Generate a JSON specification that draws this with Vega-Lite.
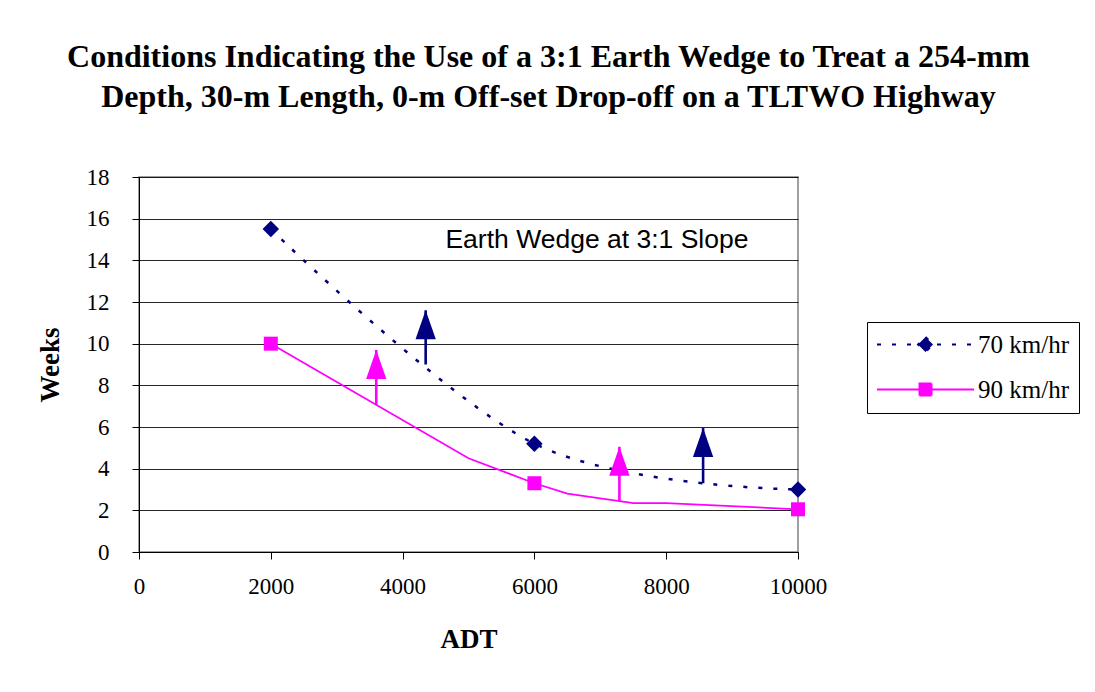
{
  "$schema": "https://vega.github.io/schema/vega-lite/v6.json",
  "width": 659,
  "height": 375,
  "autosize": {"type": "none"},
  "padding": {"left": 139, "top": 177, "right": 297, "bottom": 140},
  "background": "white",
  "title": {
    "text": ["Conditions Indicating the Use of a 3:1 Earth Wedge to Treat a 254-mm", "Depth, 30-m Length, 0-m Off-set Drop-off on a TLTWO Highway"],
    "font": "Liberation Serif",
    "fontSize": 32,
    "fontWeight": "bold",
    "color": "black",
    "anchor": "middle",
    "dx": 80,
    "offset": 52,
    "lineHeight": 40
  },
  "datasets": {
    "series": [
      {"series": "70 km/hr", "adt": 2000, "weeks": 15.5, "marker": true},
      {"series": "70 km/hr", "adt": 6000, "weeks": 5.2, "marker": true},
      {"series": "70 km/hr", "adt": 10000, "weeks": 3.0, "marker": true},
      {"series": "90 km/hr", "adt": 2000, "weeks": 10.0, "marker": true},
      {"series": "90 km/hr", "adt": 5000, "weeks": 4.5, "marker": false},
      {"series": "90 km/hr", "adt": 6000, "weeks": 3.3, "marker": true},
      {"series": "90 km/hr", "adt": 6500, "weeks": 2.8, "marker": false},
      {"series": "90 km/hr", "adt": 7500, "weeks": 2.35, "marker": false},
      {"series": "90 km/hr", "adt": 8000, "weeks": 2.35, "marker": false},
      {"series": "90 km/hr", "adt": 10000, "weeks": 2.05, "marker": true}
    ],
    "arrows": [
      {"series": "70 km/hr", "adt": 4350, "base": 9.0, "tip": 11.6},
      {"series": "70 km/hr", "adt": 8560, "base": 3.3, "tip": 5.95},
      {"series": "90 km/hr", "adt": 3600, "base": 7.05, "tip": 9.7},
      {"series": "90 km/hr", "adt": 7290, "base": 2.45, "tip": 5.05}
    ],
    "notes": [
      {"label": "Earth Wedge at 3:1 Slope", "adt": 4650, "weeks": 14.6}
    ]
  },
  "config": {
    "view": {"stroke": "#808080", "strokeWidth": 1.5},
    "axis": {
      "domainColor": "black",
      "tickColor": "black",
      "labelColor": "black",
      "titleColor": "black",
      "labelFont": "Liberation Serif",
      "titleFont": "Liberation Serif",
      "labelFontSize": 23,
      "titleFontSize": 27,
      "titleFontWeight": "bold",
      "tickSize": 7,
      "gridColor": "black",
      "gridOpacity": 0.85
    }
  },
  "encoding": {
    "x": {
      "field": "adt",
      "type": "quantitative",
      "scale": {"domain": [0, 10000], "nice": false},
      "axis": {"title": "ADT", "values": [0, 2000, 4000, 6000, 8000, 10000], "format": "d", "grid": false, "labelPadding": 16, "titlePadding": 28, "labelFlush": false}
    },
    "y": {
      "field": "weeks",
      "type": "quantitative",
      "scale": {"domain": [0, 18], "nice": false},
      "axis": {"title": "Weeks", "values": [0, 2, 4, 6, 8, 10, 12, 14, 16, 18], "grid": true, "labelPadding": 23, "titlePadding": 22, "labelFlush": false}
    }
  },
  "layer": [
    {
      "data": {"name": "series"},
      "transform": [{"filter": "datum.series === '90 km/hr'"}],
      "mark": {"type": "line", "strokeWidth": 1.8, "color": "#FF00FF"}
    },
    {
      "data": {"name": "series"},
      "transform": [{"filter": "datum.series === '70 km/hr'"}],
      "mark": {"type": "line", "strokeWidth": 2.5, "strokeDash": [4, 11], "interpolate": "cardinal", "color": "#000080"}
    },
    {
      "data": {"name": "series"},
      "transform": [{"filter": "datum.marker"}],
      "mark": {"type": "point", "filled": true, "opacity": 1},
      "encoding": {
        "color": {"condition": {"test": "datum.series === '70 km/hr'", "value": "#000080"}, "value": "#FF00FF"},
        "shape": {"condition": {"test": "datum.series === '70 km/hr'", "value": "diamond"}, "value": "square"},
        "size": {"condition": {"test": "datum.series === '70 km/hr'", "value": 272}, "value": 196}
      }
    },
    {
      "data": {"name": "series"},
      "transform": [{"filter": "false"}],
      "mark": {"type": "point", "filled": true, "opacity": 1},
      "encoding": {
        "fill": {
          "field": "series",
          "type": "nominal",
          "scale": {"domain": ["70 km/hr", "90 km/hr"], "range": ["#000080", "#FF00FF"]},
          "legend": {
            "title": null,
            "orient": "none",
            "legendX": 728,
            "legendY": 145,
            "strokeColor": "black",
            "fillColor": "white",
            "padding": 10,
            "cornerRadius": 0,
            "labelFont": "Liberation Serif",
            "labelFontSize": 25,
            "labelColor": "black",
            "rowPadding": 19,
            "symbolSize": 400,
            "symbolOffset": 36,
            "labelOffset": 40,
            "symbolStrokeWidth": 2,
            "symbolOpacity": 1
          }
        },
        "stroke": {
          "field": "series",
          "type": "nominal",
          "scale": {"domain": ["70 km/hr", "90 km/hr"], "range": ["#000080", "#FF00FF"]}
        },
        "shape": {
          "field": "series",
          "type": "nominal",
          "scale": {"domain": ["70 km/hr", "90 km/hr"], "range": ["M-4.85,0L4.85,0M0,-0.75L0.75,0L0,0.75L-0.75,0Z", "M-4.85,0L4.85,0M-0.6,-0.6L0.6,-0.6L0.6,0.6L-0.6,0.6Z"]}
        },
        "strokeDash": {
          "field": "series",
          "type": "nominal",
          "scale": {"domain": ["70 km/hr", "90 km/hr"], "range": [[4, 11], [1, 0]]}
        }
      }
    },
    {
      "data": {"name": "arrows"},
      "mark": {"type": "rule", "strokeWidth": 2.6},
      "encoding": {
        "x": {"field": "adt", "type": "quantitative"},
        "y": {"field": "base", "type": "quantitative"},
        "y2": {"field": "tip"},
        "color": {"condition": {"test": "datum.series === '70 km/hr'", "value": "#000080"}, "value": "#FF00FF"}
      }
    },
    {
      "data": {"name": "arrows"},
      "mark": {"type": "point", "filled": true, "opacity": 1, "shape": "M0,0L-0.7,2L0.7,2Z", "size": 841, "strokeWidth": 0},
      "encoding": {
        "x": {"field": "adt", "type": "quantitative"},
        "y": {"field": "tip", "type": "quantitative"},
        "color": {"condition": {"test": "datum.series === '70 km/hr'", "value": "#000080"}, "value": "#FF00FF"}
      }
    },
    {
      "data": {"name": "notes"},
      "mark": {"type": "text", "font": "Liberation Sans", "fontSize": 26.5, "align": "left", "baseline": "alphabetic", "color": "black"},
      "encoding": {
        "text": {"field": "label", "type": "nominal"}
      }
    }
  ]
}
